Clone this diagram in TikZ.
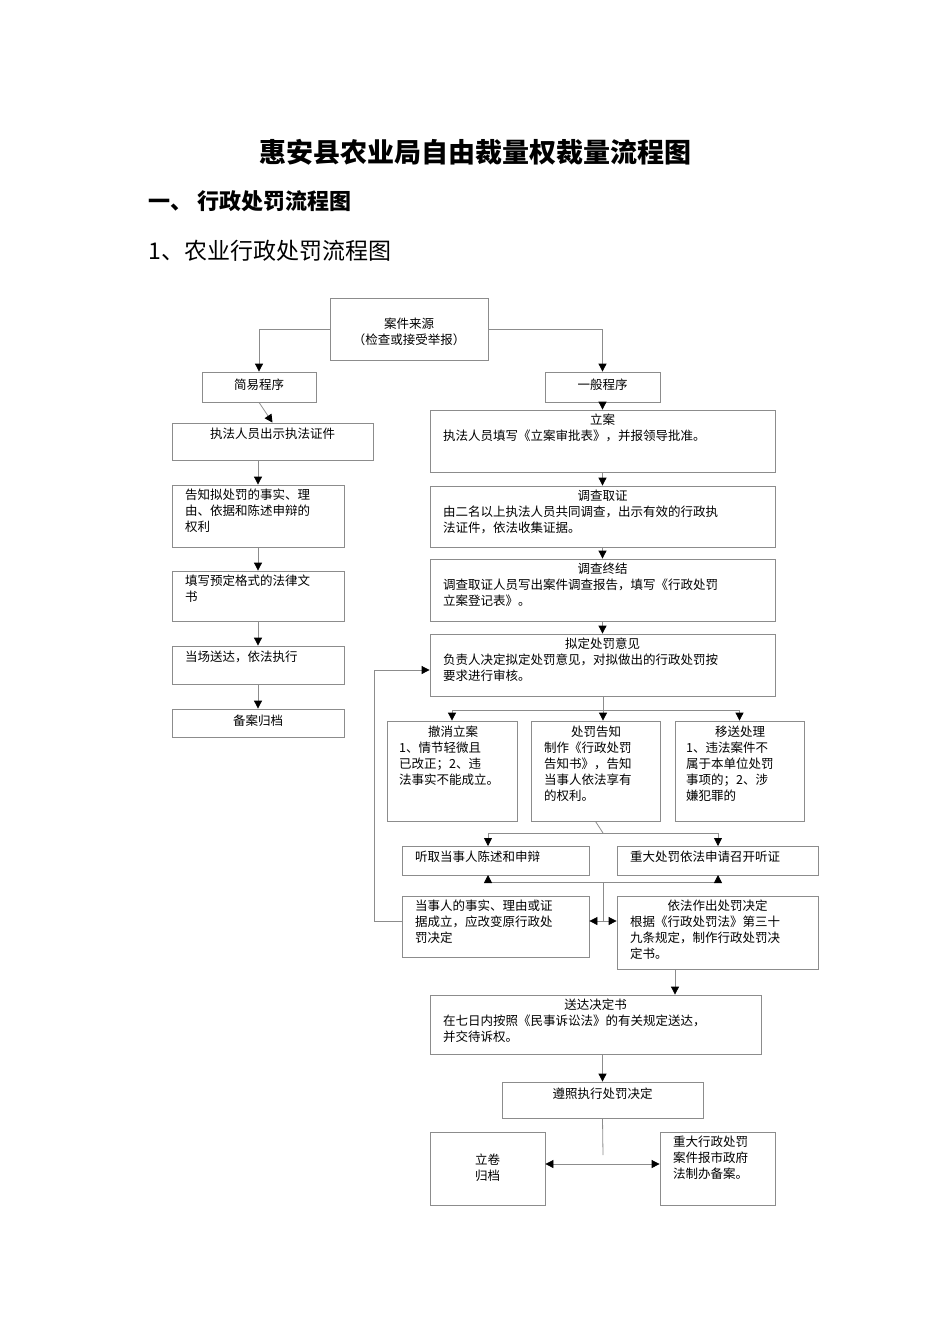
\documentclass[tikz,border=0pt]{standalone}
\usepackage{fontspec}
\setmainfont{Noto Sans CJK SC}
\usetikzlibrary{fit,arrows.meta}
\tikzset{
 box/.style={draw=black!45, line width=0.8pt, inner sep=0pt},
 txt/.style={inner sep=0pt, align=left, font=\fontsize{12.5}{16}\selectfont},
 ln/.style={draw=black!45, line width=0.8pt},
 ar/.style={ln, -{Triangle[width=8pt,length=8pt,color=black]}},
 arr/.style={ln, {Triangle[width=8pt,length=8pt,color=black]}-{Triangle[width=8pt,length=8pt,color=black]}},
}
\newcommand\bx[7][4]{%
 \node[box, fit={(#3,-#4) (#5,-#6)}] (#2) {};
 \pgfmathsetmacro\tw{#5-#3-26}%
 \node[txt, text width=\tw pt, anchor=north] (#2t) at ([yshift=-#1pt]#2.north) {#7};
}
\newcommand\ct[1]{\makebox[\linewidth][c]{#1}}
\begin{document}
\begin{tikzpicture}[x=1pt,y=1pt]
\useasboundingbox (0,0) rectangle (950,-1344);
\node[font=\fontsize{27}{30}\selectfont\bfseries] (title) at (475,-152) {惠安县农业局自由裁量权裁量流程图};
\node[anchor=west,font=\fontsize{22}{26}\selectfont\bfseries] (h1) at (145,-201) {一、 行政处罚流程图};
\node[anchor=west,font=\fontsize{23}{26}\selectfont] (h2) at (145,-251) {1、农业行政处罚流程图};

\bx[20]{src}{330}{298}{488}{360}{\ct{案件来源}\\\ct{（检查或接受举报）}}
\bx[7]{jy}{202}{372}{316}{402}{\ct{简易程序}}
\bx[7]{yb}{545}{372}{660}{402}{\ct{一般程序}}
\bx[5]{zf}{172}{423}{373}{460}{\ct{执法人员出示执法证件}}
\bx{gz}{172}{485}{344}{547}{告知拟处罚的事实、理\\由、依据和陈述申辩的\\权利}
\bx{tx}{172}{571}{344}{621}{填写预定格式的法律文\\书}
\bx[5]{dc}{172}{646}{344}{684}{当场送达，依法执行}
\bx[6]{ba}{172}{709}{344}{737}{\ct{备案归档}}

\bx{la}{430}{410}{775}{472}{\ct{立案}\\执法人员填写《立案审批表》，并报领导批准。}
\bx{dq}{430}{486}{775}{547}{\ct{调查取证}\\由二名以上执法人员共同调查，出示有效的行政执\\法证件，依法收集证据。}
\bx{dz}{430}{559}{775}{621}{\ct{调查终结}\\调查取证人员写出案件调查报告，填写《行政处罚\\立案登记表》。}
\bx{nd}{430}{634}{775}{696}{\ct{拟定处罚意见}\\负责人决定拟定处罚意见，对拟做出的行政处罚按\\要求进行审核。}

\node[box, fit={(387,-721) (517,-821)}] (cx) {};
\node[txt, anchor=north west] at (399,-726) {\makebox[108pt][c]{撤消立案}\\1、情节轻微且\\已改正；2、违\\法事实不能成立。};
\node[box, fit={(531,-721) (660,-821)}] (cf) {};
\node[txt, anchor=north west] at (544,-726) {\makebox[104pt][c]{处罚告知}\\制作《行政处罚\\告知书》，告知\\当事人依法享有\\的权利。};
\node[box, fit={(675,-721) (804,-821)}] (ys) {};
\node[txt, anchor=north west] at (686,-726) {\makebox[108pt][c]{移送处理}\\1、违法案件不\\属于本单位处罚\\事项的；2、涉\\嫌犯罪的};

\bx[5]{tq}{402}{846}{589}{875}{听取当事人陈述和申辩}
\bx[5]{zd}{617}{846}{818}{875}{重大处罚依法申请召开听证}
\bx{ds}{402}{896}{589}{957}{当事人的事实、理由或证\\据成立，应改变原行政处\\罚决定}
\bx{yf}{617}{896}{818}{969}{\ct{依法作出处罚决定}\\根据《行政处罚法》第三十\\九条规定，制作行政处罚决\\定书。}
\bx{sd}{430}{995}{761}{1054}{\ct{送达决定书}\\在七日内按照《民事诉讼法》的有关规定送达，\\并交待诉权。}
\bx[6]{zz}{502}{1082}{703}{1118}{\ct{遵照执行处罚决定}}
\bx[22]{lj}{430}{1132}{545}{1205}{\ct{立卷}\\\ct{归档}}
\bx{zx}{660}{1132}{775}{1205}{重大行政处罚\\案件报市政府\\法制办备案。}

% connectors
\draw[ar] (src.west) -| (jy.north);
\draw[ar] (src.east) -| (yb.north);
\draw[ar] (jy.south) -- (zf.north);
\draw[ar] (zf.south -| gz.north) -- (gz.north);
\draw[ar] (gz.south) -- (tx.north);
\draw[ar] (tx.south) -- (dc.north);
\draw[ar] (dc.south) -- (ba.north);
\draw[ar] (yb.south) -- (la.north -| yb.south);
\draw[ar] (la.south -| yb.south) -- (dq.north -| yb.south);
\draw[ar] (dq.south -| yb.south) -- (dz.north -| yb.south);
\draw[ar] (dz.south -| yb.south) -- (nd.north -| yb.south);
\coordinate (j1) at (603,-710);
\draw[ln] (nd.south -| j1) -- (j1);
\draw[ar] (j1) -| (cx.north);
\draw[ar] (j1) -| (ys.north);
\draw[ar] (j1) -- (cf.north -| j1);
\coordinate (j2) at (603,-833);
\draw[ln] (cf.south) -- (j2);
\draw[ar] (j2) -| (488,-846);
\draw[ar] (j2) -| (718,-846);
\coordinate (j3) at (603,-882);
\coordinate (j4) at (603,-921);
\draw[ar] (j3) -| (488,-875);
\draw[ar] (j3) -| (718,-875);
\draw[ln] (j3) -- (j4);
\draw[ar] (j4) -- (ds.east |- j4);
\draw[ar] (j4) -- (yf.west |- j4);
\draw[ar] (ds.west |- j4) -- (374,-921) -- (374,-670) -- (nd.west |- 0,-670);
\draw[ar] (675,-969) -- (sd.north -| 675,0);
\draw[ar] (sd.south -| zz.north) -- (zz.north);
\coordinate (j5) at (603,-1164);
\draw[ln] (zz.south) -- (603,-1155);
\draw[arr] (lj.east |- j5) -- (zx.west |- j5);
\end{tikzpicture}
\end{document}
